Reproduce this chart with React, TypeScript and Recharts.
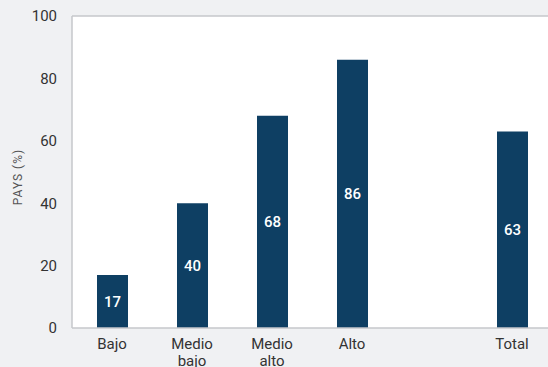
import React from 'react';
import {
  BarChart,
  Bar,
  XAxis,
  YAxis,
  CartesianGrid,
  ReferenceLine,
  LabelList,
  Label
} from 'recharts';

const categories = ['Bajo', 'Medio bajo', 'Medio alto', 'Alto', '', 'Total'];
const pays: (number | null)[] = [17, 40, 68, 86, null, 63];
const yTicks = [0, 20, 40, 60, 80, 100];

const BAR_COLOR = '#0e3f63';
const AXIS_COLOR = '#c6c7cb';
const FONT = 'Roboto, "Noto Sans", sans-serif';

const data = categories.map((c, i) => ({ name: c, value: pays[i] }));

// Two-word labels go on two lines, like the original
const CategoryTick = ({ x, y, payload }: any) => {
  const words = String(payload.value).split(' ');
  return (
    <text x={x} y={y} textAnchor="middle" fill="#333" fontSize={15} fontFamily={FONT}>
      {words.map((w, i) => (
        <tspan key={i} x={x} dy={i === 0 ? 13 : 17}>
          {w}
        </tspan>
      ))}
    </text>
  );
};

const YTitle = ({ viewBox }: any) => {
  const cx = 18;
  const cy = viewBox.y + viewBox.height / 2 + 5;
  return (
    <text
      x={cx}
      y={cy}
      transform={`rotate(-90, ${cx}, ${cy})`}
      textAnchor="middle"
      dominantBaseline="central"
      fill="#555"
      fontSize={12}
      letterSpacing={1}
      fontFamily={FONT}
    >
      PAYS (%)
    </text>
  );
};

export default function App() {
  return (
    <div
      style={{
        position: 'absolute',
        left: 0,
        top: 0,
        width: 548,
        height: 367,
        overflow: 'hidden',
        background: '#f0f1f3'
      }}
    >
      <BarChart
        width={552}
        height={367}
        data={data}
        margin={{ top: 16, right: 0, left: 0, bottom: 0 }}
        barSize={31}
      >
        <CartesianGrid horizontal={false} vertical={false} fill="#ffffff" />
        <ReferenceLine y={100} stroke={AXIS_COLOR} strokeWidth={1.5} />
        <XAxis
          dataKey="name"
          height={39}
          tickLine={false}
          axisLine={{ stroke: AXIS_COLOR, strokeWidth: 1.5 }}
          tick={<CategoryTick />}
          interval={0}
        />
        <YAxis
          width={72}
          domain={[0, 100]}
          ticks={yTicks}
          tickLine={false}
          tickMargin={9}
          axisLine={{ stroke: AXIS_COLOR, strokeWidth: 1.5 }}
          tick={{ fill: '#333', fontSize: 15, fontFamily: FONT }}
        >
          <Label content={<YTitle />} />
        </YAxis>
        <Bar dataKey="value" fill={BAR_COLOR} isAnimationActive={false}>
          <LabelList
            dataKey="value"
            position="center"
            fill="#ffffff"
            fontSize={15}
            fontWeight={500}
            fontFamily={FONT}
          />
        </Bar>
      </BarChart>
    </div>
  );
}
